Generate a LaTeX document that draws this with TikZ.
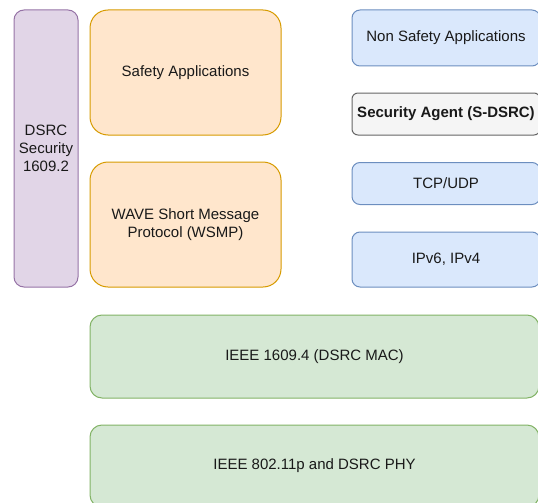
\documentclass[tikz,border=0pt]{standalone}
\usepackage{fontspec}
\setmainfont{Liberation Sans}
\usepackage{xcolor}
\usetikzlibrary{positioning}

\definecolor{purplefill}{HTML}{E1D5E7}
\definecolor{purpleline}{HTML}{9673A6}
\definecolor{orangefill}{HTML}{FFE6CC}
\definecolor{orangeline}{HTML}{D79B00}
\definecolor{bluefill}{HTML}{DAE8FC}
\definecolor{blueline}{HTML}{6C8EBF}
\definecolor{greyfill}{HTML}{F5F5F5}
\definecolor{greyline}{HTML}{666666}
\definecolor{greenfill}{HTML}{D5E8D4}
\definecolor{greenline}{HTML}{82B366}

\begin{document}
\begin{tikzpicture}[x = 1pt, y = -1pt, inner sep = 0pt, font = \fontsize{15}{18}\selectfont, text = black!90]
	\tikzstyle{layer} = [rectangle, line width = 1pt, align = center]
	\tikzstyle{secu} = [layer, draw = purpleline, fill = purplefill, rounded corners = 10pt]
	\tikzstyle{safe} = [layer, draw = orangeline, fill = orangefill, rounded corners = 18pt]
	\tikzstyle{net} = [layer, draw = blueline, fill = bluefill, rounded corners = 8pt]
	\tikzstyle{agent} = [layer, draw = greyline, fill = greyfill, rounded corners = 6pt, font = \fontsize{15}{18}\selectfont\bfseries]
	\tikzstyle{link} = [layer, draw = greenline, fill = greenfill, rounded corners = 12pt]
	\useasboundingbox (0,0) rectangle (538,503);
	\begin{scope}[minimum width = 191pt, minimum height = 125pt]
	    \node [secu, minimum width = 64pt, minimum height = 277pt] (SEC) at (46,148.5) {DSRC\\Security\\1609.2};
	    \node [safe] (SA) at (185.5,72.5) {Safety Applications};
	    \node [safe] (WSMP) at (185.5,224.5) {WAVE Short Message\\Protocol (WSMP)};
	\end{scope}
	\begin{scope}[minimum width = 188pt]
	    \node [net, minimum height = 56pt] (NSA) at (446,38) {Non Safety Applications};
	    \node [agent, minimum height = 42pt] (AG) at (446,114) {Security Agent (S-DSRC)};
	    \node [net, minimum height = 42pt] (TCP) at (446,183.5) {TCP/UDP};
	    \node [net, minimum height = 55pt] (IP) at (446,259.5) {IPv6, IPv4};
	\end{scope}
	\begin{scope}[minimum width = 449pt]
	    \node [link, minimum height = 83pt] (MAC) at (314.5,356.5) {IEEE 1609.4 (DSRC MAC)};
	    \node [link, minimum height = 82pt] (PHY) at (314.5,466) {IEEE 802.11p and DSRC PHY};
	\end{scope}
\end{tikzpicture}
\end{document}
